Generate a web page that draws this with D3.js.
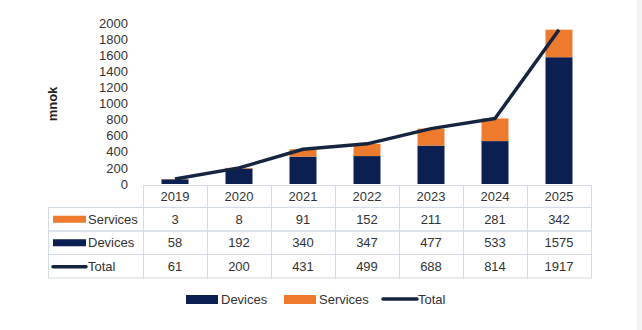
<!DOCTYPE html>
<html>
<head>
<meta charset="utf-8">
<script src="https://cdn.jsdelivr.net/npm/d3@7"></script>
<style>
  body { margin: 0; background: #fff; }
  svg { display: block; font-family: "Liberation Sans", Arial, sans-serif; }
</style>
</head>
<body>
<script>
// data
var years = ["2019", "2020", "2021", "2022", "2023", "2024", "2025"];
var services = [3, 8, 91, 152, 211, 281, 342];
var devices = [58, 192, 340, 347, 477, 533, 1575];
var total = [61, 200, 431, 499, 688, 814, 1917];
var yTicks = [0, 200, 400, 600, 800, 1000, 1200, 1400, 1600, 1800, 2000];

var navy = "#0c1f52", orange = "#ee7a2e", lineCol = "#16253f", grid = "#d3dbe5", txt = "#333";

var svg = d3.select("body").append("svg")
    .attr("width", 642)
    .attr("height", 330);

svg.append("rect").attr("x", 637).attr("y", 0).attr("width", 5).attr("height", 330).attr("fill", "#f3f3f3");

var x = d3.scaleBand().domain(years).range([143, 591]).padding(0);
var y = d3.scaleLinear().domain([0, 2000]).range([184, 23]);
var barW = 27;

// y axis
var yAxis = svg.append("g")
    .attr("transform", "translate(143,0)")
    .call(d3.axisLeft(y).tickValues(yTicks).tickFormat(d3.format("d")).tickSize(0).tickPadding(15));
yAxis.select(".domain").remove();
yAxis.selectAll("text")
    .attr("font-size", 13)
    .attr("fill", txt)
    .attr("font-family", "Liberation Sans, Arial, sans-serif");

svg.append("text")
    .attr("transform", "translate(57,104) rotate(-90)")
    .attr("text-anchor", "middle")
    .attr("font-size", 13)
    .attr("font-weight", "bold")
    .attr("fill", "#222")
    .text("mnok");

// stacked bars
var bars = svg.append("g").selectAll("g")
    .data(years)
  .enter().append("g");
bars.append("rect")
    .attr("x", function(d) { return x(d) + (x.bandwidth() - barW) / 2; })
    .attr("y", function(d, i) { return y(devices[i]); })
    .attr("width", barW)
    .attr("height", function(d, i) { return y(0) - y(devices[i]); })
    .attr("fill", navy);
bars.append("rect")
    .attr("x", function(d) { return x(d) + (x.bandwidth() - barW) / 2; })
    .attr("y", function(d, i) { return y(devices[i] + services[i]); })
    .attr("width", barW)
    .attr("height", function(d, i) { return y(devices[i]) - y(devices[i] + services[i]); })
    .attr("fill", orange);

// total line
var line = d3.line()
    .x(function(d, i) { return x(years[i]) + x.bandwidth() / 2; })
    .y(function(d) { return y(d); });
svg.append("path")
    .attr("d", line(total))
    .attr("fill", "none")
    .attr("stroke", lineCol)
    .attr("stroke-width", 3.5)
    .attr("stroke-linejoin", "round");

// data table
var rows = [
  {name: "Services", values: services, kind: "box", color: orange},
  {name: "Devices", values: devices, kind: "box", color: navy},
  {name: "Total", values: total, kind: "line", color: lineCol}
];
var tTop = 185, headH = 22, rowH = 23.5, tLeft = 48;
var tbl = svg.append("g");

// header cells
years.forEach(function(yr) {
  tbl.append("rect")
      .attr("x", x(yr) + 0.5).attr("y", tTop + 0.5)
      .attr("width", x.bandwidth()).attr("height", headH)
      .attr("fill", "none").attr("stroke", grid);
  tbl.append("text")
      .attr("x", x(yr) + x.bandwidth() / 2).attr("y", tTop + headH / 2 + 5)
      .attr("text-anchor", "middle").attr("font-size", 13).attr("fill", txt)
      .text(yr);
});

rows.forEach(function(r, ri) {
  var ry = tTop + headH + ri * rowH;
  tbl.append("rect")
      .attr("x", tLeft + 0.5).attr("y", ry + 0.5)
      .attr("width", 143 - tLeft).attr("height", rowH)
      .attr("fill", "none").attr("stroke", grid);
  if (r.kind === "box") {
    tbl.append("rect").attr("x", 53).attr("y", ry + rowH / 2 - 3)
        .attr("width", 33).attr("height", 7).attr("fill", r.color);
  } else {
    tbl.append("line").attr("x1", 53).attr("x2", 86)
        .attr("y1", ry + rowH / 2 + 1).attr("y2", ry + rowH / 2 + 1)
        .attr("stroke", r.color).attr("stroke-width", 3.5).attr("stroke-linecap", "round");
  }
  tbl.append("text")
      .attr("x", 88).attr("y", ry + rowH / 2 + 5)
      .attr("font-size", 13).attr("fill", txt)
      .text(r.name);
  years.forEach(function(yr, i) {
    tbl.append("rect")
        .attr("x", x(yr) + 0.5).attr("y", ry + 0.5)
        .attr("width", x.bandwidth()).attr("height", rowH)
        .attr("fill", "none").attr("stroke", grid);
    tbl.append("text")
        .attr("x", x(yr) + x.bandwidth() / 2).attr("y", ry + rowH / 2 + 5)
        .attr("text-anchor", "middle").attr("font-size", 13).attr("fill", txt)
        .text(r.values[i]);
  });
});

// bottom legend
var legend = [
  {name: "Devices", kind: "box", color: navy, x: 186},
  {name: "Services", kind: "box", color: orange, x: 284},
  {name: "Total", kind: "line", color: lineCol, x: 382}
];
var lg = svg.append("g").selectAll("g").data(legend).enter().append("g")
    .attr("transform", function(d) { return "translate(" + d.x + ",299)"; });
lg.filter(function(d) { return d.kind === "box"; }).append("rect")
    .attr("x", 0).attr("y", -4).attr("width", 32).attr("height", 9)
    .attr("fill", function(d) { return d.color; });
lg.filter(function(d) { return d.kind === "line"; }).append("line")
    .attr("x1", 1).attr("x2", 35).attr("y1", 0).attr("y2", 0)
    .attr("stroke", function(d) { return d.color; })
    .attr("stroke-width", 3.5).attr("stroke-linecap", "round");
lg.append("text")
    .attr("x", function(d) { return d.kind === "box" ? 35 : 36; })
    .attr("y", 5)
    .attr("font-size", 13).attr("fill", txt)
    .text(function(d) { return d.name; });
</script>
</body>
</html>
